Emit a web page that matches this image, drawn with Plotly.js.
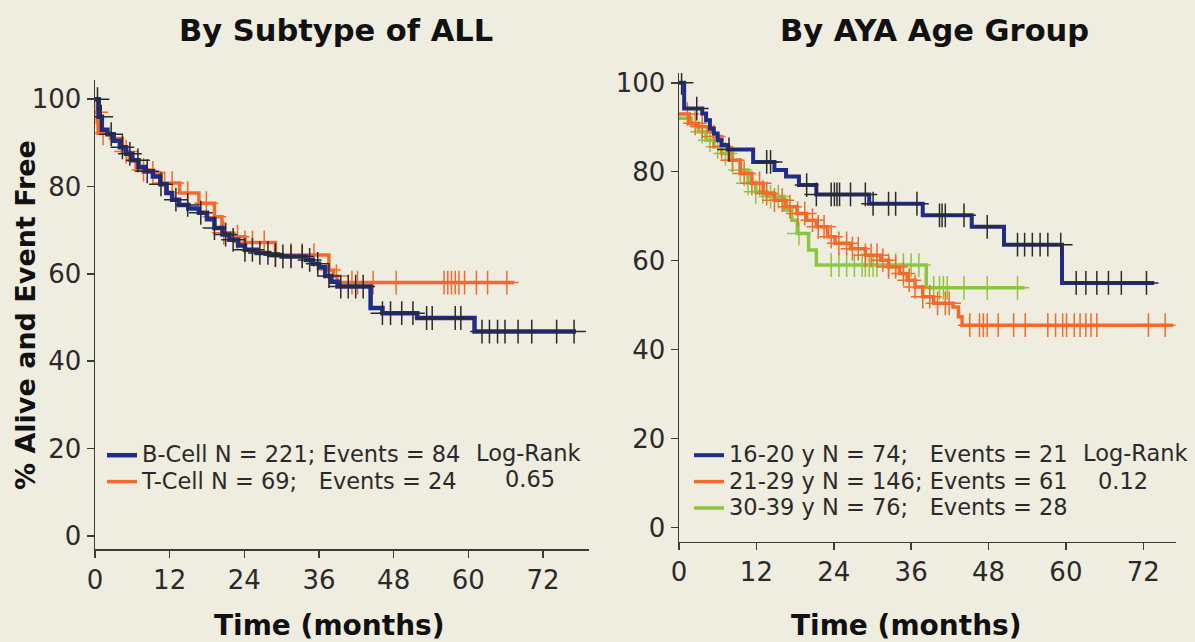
<!DOCTYPE html>
<html><head><meta charset="utf-8">
<script src="https://cdn.plot.ly/plotly-3.0.1.min.js"></script>
<style>html,body{margin:0;padding:0;background:#efece0;} #chart{width:1195px;height:642px;}</style>
</head><body><div id="chart"></div>
<script>
// ---- texts ----
const panelTitles = ['By Subtype of ALL', 'By AYA Age Group'];
const xAxisTitle = 'Time (months)';
const yAxisTitle = '% Alive and Event Free';
const xTickVals = [0, 12, 24, 36, 48, 60, 72];
const yTickVals = [0, 20, 40, 60, 80, 100];
const logRankLabel = 'Log-Rank';
const pSubtype = '0.65';
const pAge = '0.12';

// ---- panel 1: by subtype ----
const bcellName = 'B-Cell N = 221; Events = 84';
const bcellT = [0, 0.6, 1.1, 2.0, 3.0, 4.0, 5.0, 6.0, 7.0, 8.0, 9.3, 10.5, 11.5, 12.4, 13.5, 15.0, 16.7, 18.0, 19.2, 20.5, 21.6, 23.0, 24.1, 26.0, 28.0, 30.0, 33.9, 35.0, 36.0, 37.0, 38.0, 39.0, 44.3, 46.2, 51.8, 61.0, 77.3];
const bcellS = [100, 96, 93, 92, 90.5, 89, 87.5, 86, 84.5, 83.5, 82.3, 80.5, 78.5, 77, 75.8, 75, 74, 72.5, 70.5, 69, 67.8, 66.5, 65.5, 64.8, 64.3, 64, 63.2, 62.3, 61.5, 59.5, 58.2, 57.1, 52.2, 51, 49.9, 46.8, 46.8];
const bcellCensor = [0.4, 1.0, 2.6, 4.4, 5.6, 6.9, 8.4, 10.6, 13.0, 14.9, 17.0, 19.2, 21.0, 22.2, 24.1, 25.3, 26.5, 27.8, 29.0, 30.2, 31.5, 33.3, 34.5, 35.8, 37.6, 39.5, 40.7, 41.9, 43.1, 46.2, 47.5, 49.3, 51.1, 53.3, 54.2, 57.9, 58.8, 62.2, 63.4, 64.7, 65.9, 68.0, 70.2, 74.2, 77.0];

const tcellName = 'T-Cell N = 69;\u00a0\u00a0\u00a0Events = 24';
const tcellT = [0, 0.5, 2.5, 4.4, 5.5, 6.6, 9.3, 10.6, 13.6, 16.7, 19.2, 20.4, 22.2, 24.1, 29.0, 37.6, 38.3, 38.9, 67.4];
const tcellS = [97, 92.2, 91, 88, 86, 83.8, 83.1, 80.8, 78.5, 76.2, 73.1, 69.4, 68.5, 67.2, 64.3, 60.9, 59.5, 58, 58];
const tcellCensor = [0.2, 1.3, 5.0, 7.8, 9.3, 11.2, 12.4, 14.9, 17.9, 19.2, 20.7, 22.9, 24.1, 25.3, 27.2, 29.0, 31.5, 33.3, 35.2, 37.6, 38.8, 41.3, 42.2, 44.7, 48.4, 56.1, 56.7, 57.3, 57.9, 58.5, 59.4, 61.3, 63.1, 66.2];

// ---- panel 2: by AYA age group ----
const age1Name = '16-20 y N = 74;\u00a0\u00a0\u00a0Events = 21';
const age1T = [0, 0.8, 3.6, 4.2, 4.8, 5.4, 6.0, 6.6, 7.6, 11.5, 14.8, 16.6, 18.6, 21.3, 29.5, 37.8, 45.4, 50.4, 59.4, 73.7];
const age1S = [100, 94.2, 93.1, 91.6, 89.7, 88.6, 87.1, 86, 85, 82.2, 80.4, 78.9, 77, 74.9, 72.8, 70.2, 67.6, 63.6, 55, 55];
const age1Censor = [0.4, 2.75, 7.75, 13.6, 14.2, 19.8, 21.3, 23.6, 24.1, 24.5, 24.9, 26.6, 28.9, 30.1, 32.5, 33.6, 36.9, 40.4, 40.8, 41.3, 44.2, 47.8, 52.5, 53.6, 54.8, 56.0, 57.2, 59.2, 61.6, 63.1, 64.8, 66.6, 68.6, 72.5];

const age2Name = '21-29 y N = 146; Events = 61';
const age2T = [0, 1.6, 3.0, 4.5, 5.4, 6.6, 7.75, 9.5, 11.3, 13.05, 14.8, 16.6, 18.3, 19.8, 21.3, 23.05, 24.2, 26.6, 28.9, 31.3, 32.5, 34.2, 35.4, 36.6, 37.8, 39.5, 42.5, 43.35, 43.9, 76.6];
const age2S = [93, 90.9, 90.1, 89, 87.9, 85.6, 82.6, 79.6, 77.4, 75.1, 73.6, 72.1, 70.6, 69.1, 67.6, 65.4, 63.9, 62.7, 61.2, 60.1, 58.6, 57.1, 55.6, 54.1, 51.9, 50.4, 49.6, 47.4, 45.5, 45.5];
const age2Censor = [1.3, 2.5, 3.6, 5.4, 6.6, 8.3, 10.1, 11.3, 12.5, 13.6, 14.8, 16.0, 17.2, 18.4, 19.5, 20.7, 21.6, 22.5, 23.6, 24.8, 26.0, 26.9, 27.8, 28.9, 29.8, 30.7, 31.6, 32.5, 33.6, 34.8, 35.7, 36.6, 37.8, 38.9, 40.1, 41.3, 41.9, 45.1, 46.6, 47.2, 47.8, 49.5, 51.9, 53.7, 57.2, 58.4, 59.5, 60.1, 61.3, 62.2, 63.1, 63.9, 64.8, 72.8, 75.4];

const age3Name = '30-39 y N = 76;\u00a0\u00a0\u00a0Events = 28';
const age3T = [0, 1.9, 3.0, 4.2, 5.4, 6.6, 8.3, 9.5, 10.7, 11.9, 13.6, 16.3, 17.5, 18.35, 20.1, 21.3, 38.35, 53.6];
const age3S = [92, 90.5, 89, 87.1, 85.6, 84.1, 82.6, 80.4, 77.4, 75.5, 74.4, 71.4, 69.1, 66.1, 62.4, 59, 53.9, 53.9];
const age3Censor = [3.6, 4.8, 6.0, 7.2, 8.3, 9.5, 10.7, 11.9, 13.0, 14.2, 15.4, 18.6, 23.6, 24.8, 26.0, 27.2, 28.4, 28.9, 29.5, 30.1, 30.7, 32.5, 33.6, 34.8, 36.0, 37.2, 39.5, 40.4, 41.0, 41.6, 44.2, 47.8, 52.5];

// ---- styling ----
const BG = '#efece0';
const BLUE = '#1f2d8a';
const ORANGE = '#f5692a';
const GREEN = '#8cc63f';
const CENSOR_DARK = '#2a2a2a';
const FONT = 'DejaVu Sans, Verdana, sans-serif';
const W = 1195, H = 642;

function stepAt(ts, ss, x) {
  let v = ss[0];
  for (let i = 0; i < ts.length; i++) { if (ts[i] <= x) v = ss[i]; else break; }
  return v;
}
function legendText(s) { return '<span style="font-size:22.5px">' + s + '</span>'; }
function curve(ts, ss, name, color, width, xa, ya, legend, rank) {
  return {x: ts, y: ss, type: 'scatter', mode: 'lines', name: legendText(name),
    line: {shape: 'hv', color: color, width: width}, xaxis: xa, yaxis: ya,
    legend: legend, legendrank: rank, hoverinfo: 'skip'};
}
function censor(times, ts, ss, color, xa, ya) {
  return {x: times, y: times.map(t => stepAt(ts, ss, t)), type: 'scatter', mode: 'markers',
    marker: {symbol: 'cross-thin', size: 17, color: color, line: {color: color, width: 1.5}},
    showlegend: false, xaxis: xa, yaxis: ya, hoverinfo: 'skip'};
}

const traces = [
  curve(tcellT, tcellS, tcellName, ORANGE, 3.5, 'x', 'y', 'legend', 2),
  censor(tcellCensor, tcellT, tcellS, ORANGE, 'x', 'y'),
  curve(bcellT, bcellS, bcellName, BLUE, 4.5, 'x', 'y', 'legend', 1),
  censor(bcellCensor, bcellT, bcellS, CENSOR_DARK, 'x', 'y'),
  curve(age3T, age3S, age3Name, GREEN, 3.5, 'x2', 'y2', 'legend2', 3),
  censor(age3Censor, age3T, age3S, GREEN, 'x2', 'y2'),
  curve(age2T, age2S, age2Name, ORANGE, 3.5, 'x2', 'y2', 'legend2', 2),
  censor(age2Censor, age2T, age2S, ORANGE, 'x2', 'y2'),
  curve(age1T, age1S, age1Name, BLUE, 4, 'x2', 'y2', 'legend2', 1),
  censor(age1Censor, age1T, age1S, CENSOR_DARK, 'x2', 'y2')
];

function axisBase() {
  return {showline: true, linecolor: '#3a3a3a', linewidth: 1.5, ticks: 'outside', ticklen: 7,
    tickwidth: 1.5, tickcolor: '#3a3a3a', showgrid: false, zeroline: false, fixedrange: true,
    tickfont: {family: FONT, size: 26, color: '#2a2a2a'}};
}
const px = v => v / W;
const py = v => 1 - v / H;

const layout = {
  width: W, height: H,
  paper_bgcolor: BG, plot_bgcolor: BG,
  margin: {l: 0, r: 0, t: 0, b: 0},
  xaxis: Object.assign(axisBase(), {domain: [px(95), px(589)], range: [0, 79.4], tickvals: xTickVals, anchor: 'y'}),
  yaxis: Object.assign(axisBase(), {domain: [py(549), py(80)], range: [-3, 104.4], tickvals: yTickVals, anchor: 'x'}),
  xaxis2: Object.assign(axisBase(), {domain: [px(679), px(1175.5)], range: [0, 77], tickvals: xTickVals, anchor: 'y2'}),
  yaxis2: Object.assign(axisBase(), {domain: [py(541.7), py(73)], range: [-3.2, 102.2], tickvals: yTickVals, anchor: 'x2'}),
  legend: {x: px(102), y: py(437), xanchor: 'left', yanchor: 'top', bgcolor: 'rgba(0,0,0,0)',
    font: {family: FONT, size: 18, color: '#2a2a2a'}, tracegroupgap: 0, itemwidth: 30},
  legend2: {x: px(689), y: py(437), xanchor: 'left', yanchor: 'top', bgcolor: 'rgba(0,0,0,0)',
    font: {family: FONT, size: 18, color: '#2a2a2a'}, tracegroupgap: 0, itemwidth: 30},
  annotations: [
    {text: '<b>' + panelTitles[0] + '</b>', xref: 'paper', yref: 'paper', x: px(336), y: py(30), showarrow: false, xanchor: 'center', yanchor: 'middle', font: {family: FONT, size: 30.5, color: '#111'}},
    {text: '<b>' + panelTitles[1] + '</b>', xref: 'paper', yref: 'paper', x: px(934), y: py(30), showarrow: false, xanchor: 'center', yanchor: 'middle', font: {family: FONT, size: 30.5, color: '#111'}},
    {text: '<b>' + xAxisTitle + '</b>', xref: 'paper', yref: 'paper', x: px(329), y: py(625), showarrow: false, xanchor: 'center', yanchor: 'middle', font: {family: FONT, size: 28, color: '#111'}},
    {text: '<b>' + xAxisTitle + '</b>', xref: 'paper', yref: 'paper', x: px(906), y: py(625), showarrow: false, xanchor: 'center', yanchor: 'middle', font: {family: FONT, size: 28, color: '#111'}},
    {text: '<b>' + yAxisTitle + '</b>', xref: 'paper', yref: 'paper', x: px(25), y: py(315), showarrow: false, xanchor: 'center', yanchor: 'middle', textangle: -90, font: {family: FONT, size: 27, color: '#111'}},
    {text: logRankLabel, xref: 'paper', yref: 'paper', x: px(474), y: py(452.7), showarrow: false, xanchor: 'left', yanchor: 'middle', font: {family: FONT, size: 22.5, color: '#2a2a2a'}},
    {text: pSubtype, xref: 'paper', yref: 'paper', x: px(503), y: py(478.5), showarrow: false, xanchor: 'left', yanchor: 'middle', font: {family: FONT, size: 22.5, color: '#2a2a2a'}},
    {text: logRankLabel, xref: 'paper', yref: 'paper', x: px(1081), y: py(452.7), showarrow: false, xanchor: 'left', yanchor: 'middle', font: {family: FONT, size: 22.5, color: '#2a2a2a'}},
    {text: pAge, xref: 'paper', yref: 'paper', x: px(1096), y: py(480.7), showarrow: false, xanchor: 'left', yanchor: 'middle', font: {family: FONT, size: 22.5, color: '#2a2a2a'}}
  ]
};

Plotly.newPlot('chart', traces, layout, {displayModeBar: false, staticPlot: true});
</script>
</body></html>
